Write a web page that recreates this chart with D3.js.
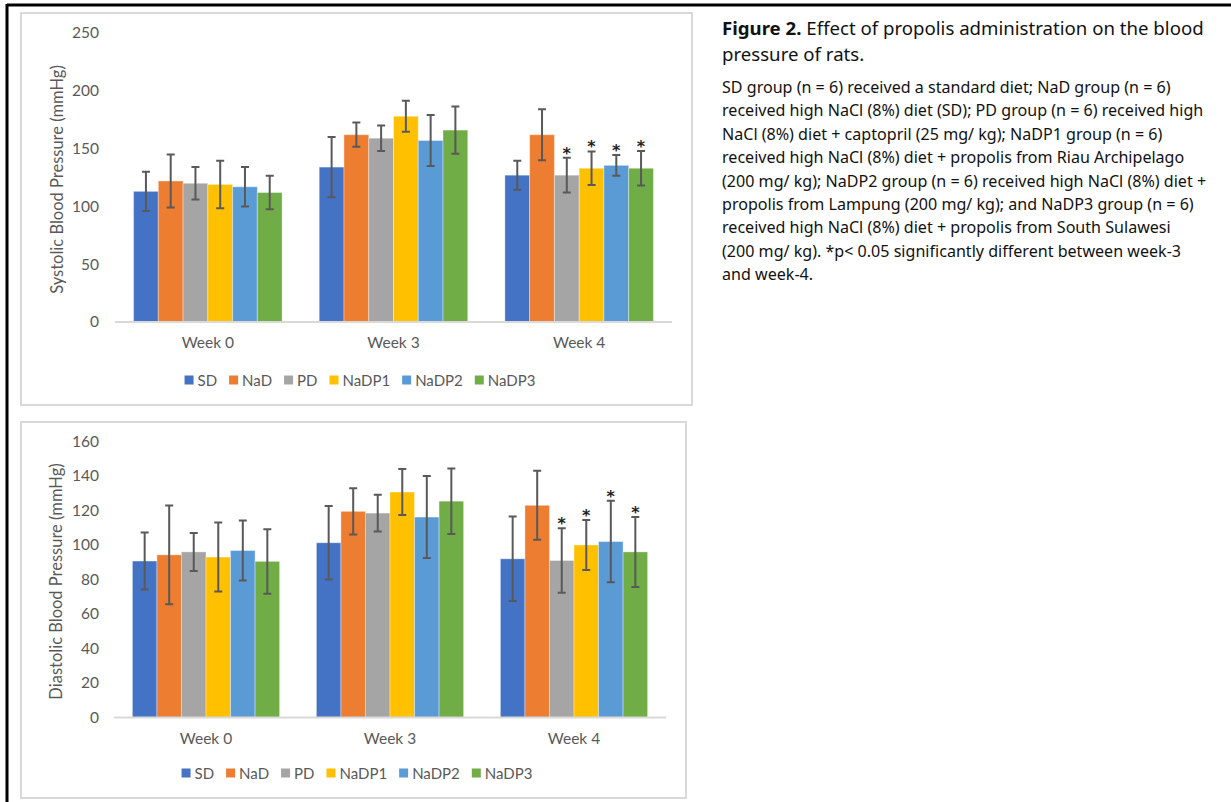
<!DOCTYPE html>
<html>
<head>
<meta charset="utf-8">
<script src="https://cdn.jsdelivr.net/npm/d3@7"></script>
<style>
  html, body { margin: 0; padding: 0; background: #fff; }
  svg { display: block; }
</style>
</head>
<body>
<svg id="fig" width="1231" height="802"></svg>
<script>
// Categories and groups
const weeks = ["Week 0", "Week 3", "Week 4"];
const groups = ["SD", "NaD", "PD", "NaDP1", "NaDP2", "NaDP3"];
const groupColors = ["#4472C4", "#ED7D31", "#A5A5A5", "#FFC000", "#5B9BD5", "#70AD47"];

// Systolic blood pressure (mmHg): mean and SD per group, across weeks
const sysMean = [
  [113, 134, 127],
  [122, 162, 162],
  [120, 159, 127],
  [119, 178, 133],
  [117, 157, 135.5],
  [112, 166, 133]
];
const sysSD = [
  [17, 26, 12.5],
  [23, 10.5, 22],
  [14, 11, 15],
  [20.5, 13.5, 14.5],
  [17, 22, 9],
  [14.5, 20.5, 15]
];

// Diastolic blood pressure (mmHg): mean and SD per group, across weeks
const diaMean = [
  [90.7, 101.3, 92],
  [94.3, 119.5, 123],
  [96, 118.5, 91],
  [93, 130.7, 100],
  [96.8, 116.2, 102],
  [90.5, 125.4, 96]
];
const diaSD = [
  [16.5, 21.3, 24.5],
  [28.6, 13.4, 20],
  [11, 10.7, 18.7],
  [20, 13.3, 14.5],
  [17.4, 23.8, 23.6],
  [18.7, 19, 20.3]
];

// Significance (*p < 0.05, week-3 vs week-4), per group at each week
const sysSig = [
  [false, false, false],
  [false, false, false],
  [false, false, true],
  [false, false, true],
  [false, false, true],
  [false, false, true]
];
const diaSig = sysSig.map(r => r.slice());

// Axis ticks
const sysTicks = [0, 50, 100, 150, 200, 250];
const diaTicks = [0, 20, 40, 60, 80, 100, 120, 140, 160];

// Caption text
const captionTitleBold = "Figure 2.";
const captionTitleLines = [" Effect of propolis administration on the blood", "pressure of rats."];
const captionBody = [
  "SD group (n = 6) received a standard diet; NaD group (n = 6)",
  "received high NaCl (8%) diet (SD); PD group (n = 6) received high",
  "NaCl (8%) diet + captopril (25 mg/ kg); NaDP1 group (n = 6)",
  "received high NaCl (8%) diet + propolis from Riau Archipelago",
  "(200 mg/ kg); NaDP2 group (n = 6) received high NaCl (8%) diet +",
  "propolis from Lampung (200 mg/ kg); and NaDP3 group (n = 6)",
  "received high NaCl (8%) diet + propolis from South Sulawesi",
  "(200 mg/ kg). *p< 0.05 significantly different between week-3",
  "and week-4."
];

const svg = d3.select("#fig");
const chartFont = "Lato, 'Open Sans', sans-serif";
const textGray = "#595959";

// Outer frame (top and left rules)
svg.append("line").attr("x1", 7).attr("x2", 1231).attr("y1", 5).attr("y2", 5)
  .attr("stroke", "#000").attr("stroke-width", 3);
svg.append("line").attr("x1", 7).attr("x2", 7).attr("y1", 4).attr("y2", 802)
  .attr("stroke", "#000").attr("stroke-width", 3);

function drawChart(cfg) {
  const g = svg.append("g");
  // chart area frame
  g.append("rect")
    .attr("x", cfg.box[0]).attr("y", cfg.box[1])
    .attr("width", cfg.box[2] - cfg.box[0]).attr("height", cfg.box[3] - cfg.box[1])
    .attr("fill", "#fff").attr("stroke", "#d9d9d9").attr("stroke-width", 2);

  const x0 = d3.scaleBand().domain(weeks).range([cfg.plotX0, cfg.plotX1])
    .paddingInner(0.2).paddingOuter(0.1);
  const x1 = d3.scaleBand().domain(groups).range([0, x0.bandwidth()]);
  const y = d3.scaleLinear().domain([0, cfg.ticks[cfg.ticks.length - 1]])
    .range([cfg.plotY0, cfg.plotY1]);

  // y axis labels (no line, no tick marks)
  const yAxis = d3.axisLeft(y).tickValues(cfg.ticks).tickSize(0).tickPadding(0);
  const ya = g.append("g").attr("transform", `translate(${cfg.tickRight},0)`).call(yAxis);
  ya.select(".domain").remove();
  ya.selectAll("text").attr("fill", textGray).attr("font-family", chartFont)
    .attr("font-size", 15.5);

  // bars
  const series = groups.map((name, i) => ({
    name, color: groupColors[i],
    values: weeks.map((w, j) => ({ week: w, mean: cfg.mean[i][j], sd: cfg.sd[i][j], sig: cfg.sig[i][j] }))
  }));

  const sg = g.selectAll("g.series").data(series).join("g").attr("class", "series");
  sg.selectAll("rect").data(d => d.values.map(v => Object.assign({ name: d.name, color: d.color }, v)))
    .join("rect")
    .attr("x", d => x0(d.week) + x1(d.name))
    .attr("y", d => y(d.mean))
    .attr("width", x1.bandwidth())
    .attr("height", d => y(0) - y(d.mean))
    .attr("fill", d => d.color)
    .attr("stroke", "rgba(255,255,255,0.35)")
    .attr("stroke-width", 1);

  // x axis baseline and category labels
  const xAxis = d3.axisBottom(x0).tickSize(0).tickPadding(15);
  const xa = g.append("g").attr("transform", `translate(0,${y(0)})`).call(xAxis);
  xa.select(".domain").attr("stroke", "#d9d9d9").attr("stroke-width", 2)
    .attr("d", `M${cfg.plotX0},0H${cfg.plotX1}`);
  xa.selectAll("text").attr("fill", textGray).attr("font-family", chartFont).attr("font-size", 15.5);

  // error bars
  const cap = 4;
  const eb = g.append("g");
  series.forEach(s => {
    s.values.forEach(v => {
      const cx = x0(v.week) + x1(s.name) + x1.bandwidth() / 2;
      const yt = y(v.mean + v.sd), yb = y(v.mean - v.sd);
      eb.append("path")
        .attr("d", `M${cx},${yt}V${yb}M${cx - cap},${yt}H${cx + cap}M${cx - cap},${yb}H${cx + cap}`)
        .attr("stroke", "#595959").attr("stroke-width", 2).attr("fill", "none");
      if (v.sig) {
        eb.append("text").attr("x", cx).attr("y", yt + 1)
          .attr("text-anchor", "middle").attr("font-family", "'DejaVu Sans', sans-serif")
          .attr("font-size", 16).attr("font-weight", "bold").attr("fill", "#222").text("*");
      }
    });
  });

  // y axis title
  g.append("text")
    .attr("transform", `translate(${cfg.titleX},${(cfg.plotY0 + cfg.plotY1) / 2 + 2}) rotate(-90)`)
    .attr("text-anchor", "middle").attr("dominant-baseline", "middle")
    .attr("font-family", chartFont).attr("font-size", 16.5).attr("fill", textGray)
    .text(cfg.yTitle);

  // legend
  const lg = g.append("g");
  let cursor = 0;
  series.forEach(s => {
    const it = lg.append("g");
    it.append("rect").attr("x", 0).attr("y", -4.5).attr("width", 9).attr("height", 9).attr("fill", s.color);
    const t = it.append("text").attr("x", 13).attr("y", 0).attr("dominant-baseline", "central")
      .attr("font-family", chartFont).attr("font-size", 15).attr("fill", textGray).text(s.name);
    const w = 13 + t.node().getComputedTextLength();
    it.attr("transform", `translate(${cursor},0)`);
    cursor += w + 12;
  });
  const total = cursor - 12;
  lg.attr("transform", `translate(${cfg.legendCx - total / 2},${cfg.legendY})`);
}

drawChart({
  box: [21, 13, 692, 405],
  plotX0: 115, plotX1: 672, plotY0: 322, plotY1: 33,
  tickRight: 99, titleX: 59, ticks: sysTicks,
  mean: sysMean, sd: sysSD, sig: sysSig,
  yTitle: "Systolic Blood Pressure (mmHg)",
  legendCx: 360, legendY: 380
});

drawChart({
  box: [21, 422, 686, 798],
  plotX0: 114, plotX1: 666, plotY0: 717.5, plotY1: 441.5,
  tickRight: 99, titleX: 58, ticks: diaTicks,
  mean: diaMean, sd: diaSD, sig: diaSig,
  yTitle: "Diastolic Blood Pressure (mmHg)",
  legendCx: 357, legendY: 773
});

// Caption block
const capFont = "'Noto Sans', 'Open Sans', sans-serif";
const capX = 722;
const title = svg.append("text").attr("x", capX).attr("y", 35)
  .attr("font-family", capFont).attr("fill", "#111");
title.append("tspan").attr("font-weight", "bold").text(captionTitleBold);
title.append("tspan").text(captionTitleLines[0]);
// fit title line width
title.attr("font-size", 20);
const tw = title.node().getComputedTextLength();
const titleSize = 20 * 482 / tw;
title.attr("font-size", titleSize);
svg.append("text").attr("x", capX).attr("y", 61)
  .attr("font-family", capFont).attr("font-size", titleSize).attr("fill", "#111")
  .text(captionTitleLines[1]);

const probe = svg.append("text").attr("font-family", capFont).attr("font-size", 16).text(captionBody[0]);
const bodySize = 16 * 449 / probe.node().getComputedTextLength();
probe.remove();
captionBody.forEach((line, i) => {
  svg.append("text").attr("x", capX).attr("y", 93 + i * 23.4)
    .attr("font-family", capFont).attr("font-size", bodySize).attr("fill", "#111")
    .text(line);
});
</script>
</body>
</html>
